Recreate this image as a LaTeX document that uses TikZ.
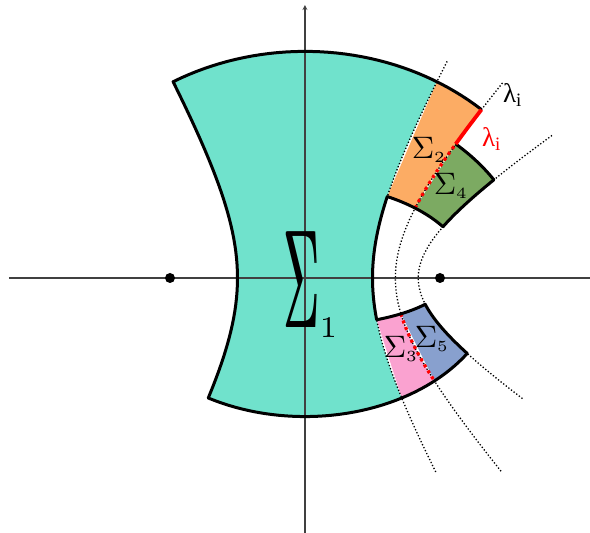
\documentclass[tikz,border=0pt]{standalone}
\usepackage{graphicx}
\usepackage{fontspec}
\newfontfamily\grk{Liberation Serif}
\definecolor{cyanA}{RGB}{112,226,204}
\definecolor{orangeA}{RGB}{252,172,100}
\definecolor{greenA}{RGB}{124,170,98}
\definecolor{pinkA}{RGB}{250,162,208}
\definecolor{blueA}{RGB}{136,160,206}

\begin{document}
\begin{tikzpicture}[x=1pt, y=1pt, >=stealth, samples=40]
\tikzset{
    declare function={ex(\m,\n)=135*cosh(\m)*cos(\n); ey(\m,\n)=135*sinh(\m)*sin(\n);},
    bound/.style={line width=3pt, line join=round},
    grid/.style={dotted, line width=1.3pt},
    cut/.style={red, line width=3.2pt, dash pattern=on 3pt off 4pt},
    axis/.style={black!75, line width=1.2pt},
    focus/.style={circle, fill, inner sep=0pt, minimum size=10pt},
    region/.style={scale=3.1, transform shape, inner sep=0pt},
    lam/.style={font=\grk, scale=2.7, transform shape, inner sep=0pt}
}
\useasboundingbox (-305,-255) rectangle (285,278);
% regions
\fill[cyanA] plot[domain=120:60] ({ex(1.29,\x)},{ey(1.29,\x)}) -- plot[domain=1.29:-0.9] ({ex(\x,60)},{ey(\x,60)}) -- plot[domain=60:120] ({ex(-0.9,\x)},{ey(-0.9,\x)}) -- plot[domain=-0.9:1.29] ({ex(\x,120)},{ey(\x,120)}) -- cycle;
\fill[orangeA] plot[domain=60:48] ({ex(0.65,\x)},{ey(0.65,\x)}) -- plot[domain=0.65:1.29] ({ex(\x,48)},{ey(\x,48)}) -- plot[domain=48:60] ({ex(1.29,\x)},{ey(1.29,\x)}) -- cycle;
\fill[greenA] plot[domain=48:33] ({ex(0.65,\x)},{ey(0.65,\x)}) -- plot[domain=0.65:1.1] ({ex(\x,33)},{ey(\x,33)}) -- plot[domain=33:48] ({ex(1.1,\x)},{ey(1.1,\x)}) -- cycle;
\fill[pinkA] plot[domain=60:48] ({ex(-0.35,\x)},{ey(-0.35,\x)}) -- plot[domain=-0.35:-0.9] ({ex(\x,48)},{ey(\x,48)}) -- plot[domain=48:60] ({ex(-0.9,\x)},{ey(-0.9,\x)}) -- cycle;
\fill[blueA] plot[domain=48:33] ({ex(-0.35,\x)},{ey(-0.35,\x)}) -- plot[domain=-0.35:-0.9] ({ex(\x,33)},{ey(\x,33)}) -- plot[domain=33:48] ({ex(-0.9,\x)},{ey(-0.9,\x)}) -- cycle;
% axes
\coordinate (xl) at (-296,0); \coordinate (xr) at (285,0); \coordinate (yb) at (0,-255); \coordinate (yt) at (0,273);
\draw[axis] (xl) -- (xr); \draw[axis, ->] (yb) -- (yt);
% hyperbolas
\draw[grid] plot[domain=-1.28:1.38] ({ex(\x,60)},{ey(\x,60)});
\draw[grid] plot[domain=-1.41:1.42] ({ex(\x,48)},{ey(\x,48)});
\draw[grid] plot[domain=-1.27:1.42] ({ex(\x,33)},{ey(\x,33)});
\draw[cut] plot[domain=0.65:1.1] ({ex(\x,48)},{ey(\x,48)});
\draw[cut] plot[domain=-0.35:-0.9] ({ex(\x,48)},{ey(\x,48)});
% outline
\draw[bound] plot[domain=48:33] ({ex(1.1,\x)},{ey(1.1,\x)}) -- plot[domain=1.1:0.65] ({ex(\x,33)},{ey(\x,33)}) -- plot[domain=33:60] ({ex(0.65,\x)},{ey(0.65,\x)}) -- plot[domain=0.65:-0.35] ({ex(\x,60)},{ey(\x,60)}) -- plot[domain=60:33] ({ex(-0.35,\x)},{ey(-0.35,\x)}) -- plot[domain=-0.35:-0.9] ({ex(\x,33)},{ey(\x,33)}) -- plot[domain=33:120] ({ex(-0.9,\x)},{ey(-0.9,\x)}) -- plot[domain=-0.9:1.29] ({ex(\x,120)},{ey(\x,120)}) -- plot[domain=120:48] ({ex(1.29,\x)},{ey(1.29,\x)});
\draw[red, line width=3.8pt] plot[domain=1.1:1.29] ({ex(\x,48)},{ey(\x,48)});
% foci and labels
\node[focus] (F1) at (-135,0) {}; \node[focus] (F2) at (135,0) {};
\node[anchor=base west, inner sep=0pt] (S1) at (-22,-50) {\rlap{\scalebox{4.9}[14]{$\Sigma$}}\kern1.3pt\scalebox{4.9}[14]{$\Sigma$}\raisebox{-10pt}{\scalebox{4.3}{$\scriptstyle 1$}}};
\node[region] (S2) at (124,128) {$\Sigma_{\scriptscriptstyle 2}$}; \node[region] (S4) at (146,92) {$\Sigma_{\scriptscriptstyle 4}$};
\node[region] (S3) at (96,-71) {$\Sigma_{\scriptscriptstyle 3}$}; \node[region] (S5) at (127,-61) {$\Sigma_{\scriptscriptstyle 5}$};
\node[lam] (L1) at (208,183) {λ\textsubscript{i}}; \node[lam, red] (L2) at (187,139) {λ\textsubscript{i}};
\end{tikzpicture}
\end{document}
